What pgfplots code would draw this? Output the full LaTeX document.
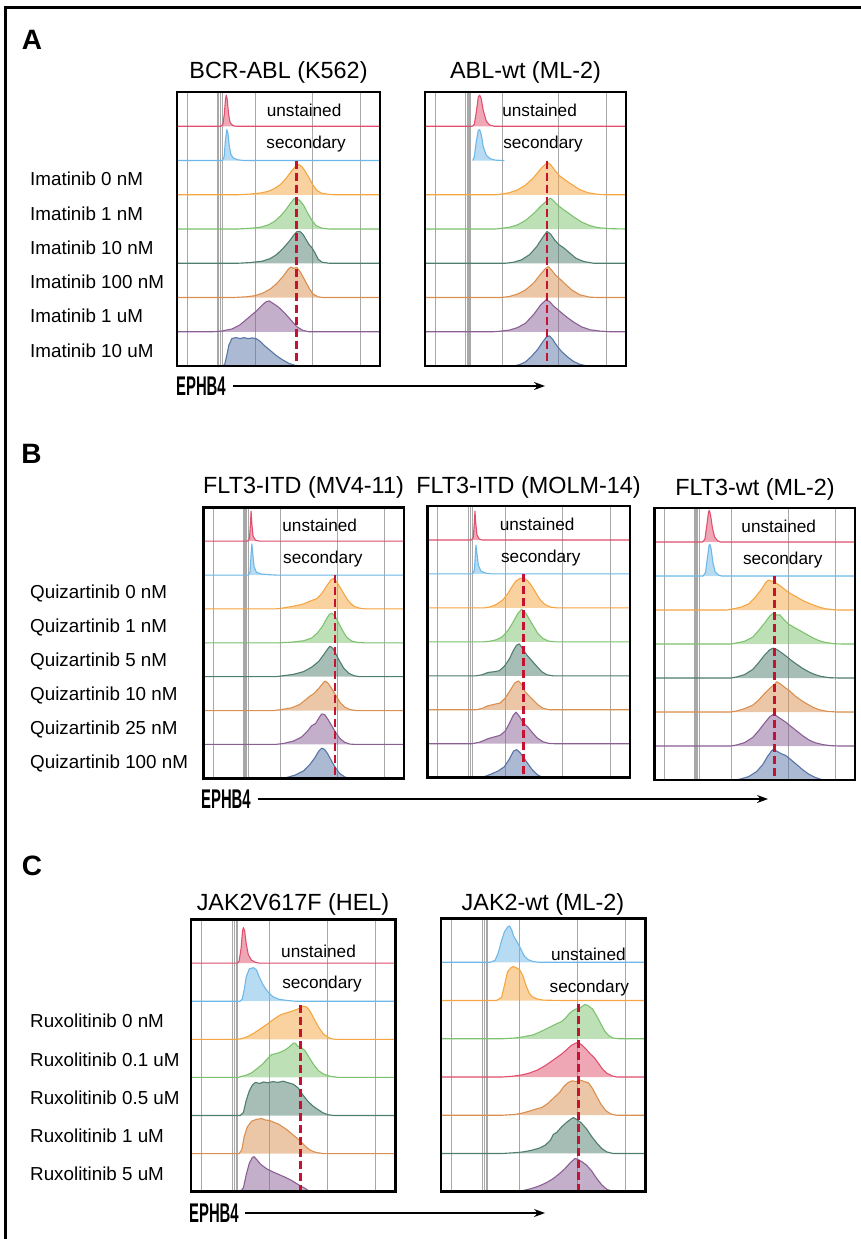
\documentclass[border=0pt]{standalone}
\usepackage{pgfplots}
\pgfplotsset{compat=1.18}
\usepackage{graphicx}
\usepackage{fontspec}
\setmainfont{Liberation Sans}
\usetikzlibrary{arrows.meta}

\definecolor{cred}{HTML}{E0506E}
\definecolor{cblue}{HTML}{6DB8E8}
\definecolor{corange}{HTML}{F5A542}
\definecolor{clgreen}{HTML}{7DC26E}
\definecolor{cdgreen}{HTML}{4F7E6D}
\definecolor{ctan}{HTML}{D98F4F}
\definecolor{cpurple}{HTML}{8A5F95}
\definecolor{cnavy}{HTML}{5874A5}
\definecolor{cdash}{HTML}{C41230}
\definecolor{cgrid}{HTML}{A8A8A8}

\newcommand{\lab}{\fontsize{18.8}{21}\selectfont}
\newcommand{\inlab}{\fontsize{17.2}{20}\selectfont}
\newcommand{\ttl}{\fontsize{23.4}{27}\selectfont}
\newcommand{\pan}{\fontsize{28}{30}\selectfont\bfseries}
\tikzset{lab/.style={font=\lab, inner sep=0pt}, inlab/.style={font=\inlab}, ttl/.style={font=\ttl}, pan/.style={font=\pan}}

% one histogram: colour, baseline offset, points (x in % of box width, height in row units)
\newcommand{\hist}[3]{\addplot[draw=#1, fill=#1, fill opacity=0.5, line width=1.1pt, line join=round, mark=none]
  table[x index=0, y expr=\thisrowno{1}+#2, row sep=\\] {#3};}
\newcommand{\flowgrid}[1]{%
  \draw[cgrid, line width=0.9pt] (axis cs:5.2,0) -- (axis cs:5.2,#1) (axis cs:38.4,0) -- (axis cs:38.4,#1)
    (axis cs:66.6,0) -- (axis cs:66.6,#1) (axis cs:90.2,0) -- (axis cs:90.2,#1);
  \draw[cgrid, line width=1.4pt] (axis cs:20.2,0) -- (axis cs:20.2,#1) (axis cs:21.3,0) -- (axis cs:21.3,#1)
    (axis cs:22.4,0) -- (axis cs:22.4,#1);}
\newcommand{\medline}[2]{\addplot[cdash, line width=2.9pt, dash pattern=on 8pt off 4pt] coordinates {(#1,#2) (#1,0)};}
\newcommand{\frameit}{\draw[line width=2.8pt] (rel axis cs:0,0) rectangle (rel axis cs:1,1);}
\newcommand{\ephb}[1]{\node[anchor=west, inner sep=0pt, font=\fontsize{27}{29}\selectfont\bfseries] at (#1) {\scalebox{0.55}[1]{EPHB4}};}

\pgfplotsset{flow/.style={anchor=south west, scale only axis, axis lines=none,
  xmin=0, xmax=100, ymin=0, xtick=\empty, ytick=\empty, clip=false}}

\begin{document}
\begin{tikzpicture}
\useasboundingbox (0,0) rectangle (861pt,-1239pt);
\draw[line width=2.8pt] (870pt,-7.5pt) -- (5.5pt,-7.5pt) -- (5.5pt,-1250pt);

% ---------------- A ----------------
\node[pan, anchor=center] at (32pt,-40pt) {A};
\node[ttl] at (278.5pt,-72pt) {BCR-ABL (K562)};
\node[ttl] at (525.5pt,-72pt) {ABL-wt (ML-2)};
\foreach \t [count=\i from 2] in {Imatinib 0 nM, Imatinib 1 nM, Imatinib 10 nM, Imatinib 100 nM, Imatinib 1 uM, Imatinib 10 uM}
  \node[lab, anchor=west] at (30pt,{-(92+(\i+0.5)*34.25+1.5)*1pt}) {\t};

\begin{axis}[flow, at={(177pt,-366pt)}, width=203pt, height=274pt, ymax=8]
\flowgrid{8}
\hist{cred}{7}{0 0\\ 21.5 0\\ 22.6 0.05\\ 23.3 0.35\\ 23.9 0.8\\ 24.3 0.91\\ 24.8 0.75\\ 25.4 0.35\\ 26.2 0.1\\ 27.5 0.02\\ 29 0\\ 100 0\\}
\hist{cblue}{6}{0 0\\ 22.3 0\\ 23.2 0.1\\ 23.8 0.55\\ 24.5 0.9\\ 25.1 0.8\\ 25.7 0.45\\ 26.5 0.18\\ 27.8 0.07\\ 30 0.02\\ 33 0\\ 100 0\\}
\hist{corange}{5}{0 0\\ 30 0\\ 36 0.02\\ 41 0.05\\ 45 0.1\\ 48 0.18\\ 51 0.3\\ 54 0.5\\ 56.5 0.7\\ 58.5 0.84\\ 60 0.88\\ 61.5 0.82\\ 63 0.7\\ 65 0.5\\ 67 0.28\\ 69 0.12\\ 71.5 0.04\\ 75 0.01\\ 78 0\\ 100 0\\}
\hist{clgreen}{4}{0 0\\ 30 0\\ 36 0.02\\ 41 0.05\\ 45 0.12\\ 48 0.22\\ 51 0.38\\ 53.5 0.55\\ 55.5 0.72\\ 57.5 0.87\\ 58.7 0.9\\ 60.5 0.83\\ 62.5 0.68\\ 64.5 0.45\\ 66.5 0.25\\ 68.5 0.1\\ 71 0.03\\ 75 0\\ 100 0\\}
\hist{cdgreen}{3}{0 0\\ 30 0\\ 36 0.02\\ 42 0.06\\ 46 0.14\\ 49 0.25\\ 52 0.42\\ 55 0.62\\ 57.5 0.82\\ 59 0.92\\ 60.5 0.93\\ 62 0.85\\ 63.5 0.7\\ 65 0.55\\ 66.5 0.45\\ 68 0.3\\ 69.5 0.12\\ 71.5 0.03\\ 75 0\\ 100 0\\}
\hist{ctan}{2}{0 0\\ 28 0\\ 34 0.02\\ 38 0.05\\ 42 0.12\\ 46 0.25\\ 49 0.4\\ 52 0.6\\ 54.5 0.8\\ 56 0.89\\ 57.5 0.85\\ 59 0.88\\ 61 0.72\\ 63 0.5\\ 65 0.28\\ 67 0.1\\ 69.5 0.02\\ 72 0\\ 100 0\\}
\hist{cpurple}{1}{0 0\\ 18 0\\ 22 0.02\\ 27 0.08\\ 31 0.2\\ 35 0.4\\ 39 0.6\\ 42 0.78\\ 44 0.88\\ 45.5 0.9\\ 47.5 0.82\\ 50 0.72\\ 53 0.55\\ 56 0.35\\ 59 0.15\\ 62 0.04\\ 65 0\\ 100 0\\}
\hist{cnavy}{0}{0 0\\ 22.5 0\\ 23.5 0.05\\ 24.5 0.3\\ 25.5 0.6\\ 27 0.8\\ 29 0.83\\ 31 0.8\\ 33 0.83\\ 35 0.8\\ 37 0.82\\ 39 0.8\\ 41 0.72\\ 43 0.6\\ 46 0.45\\ 49 0.3\\ 52 0.18\\ 55 0.08\\ 58 0.02\\ 61 0\\ 100 0\\}
\medline{58.9}{6}
\node[inlab] at (axis cs:62.6,7.47) {unstained};
\node[inlab] at (axis cs:63.6,6.47) {secondary};
\frameit
\end{axis}

\begin{axis}[flow, at={(425pt,-366pt)}, width=201pt, height=274pt, ymax=8]
\flowgrid{8}
\hist{cred}{7}{0 0\\ 23.5 0\\ 24.5 0.05\\ 25.5 0.4\\ 26.5 0.85\\ 27.2 0.91\\ 28 0.8\\ 29 0.45\\ 30.5 0.15\\ 32 0.04\\ 34.5 0\\ 100 0\\}
\hist{cblue}{6}{23.7 0\\ 24.5 0.1\\ 25.5 0.55\\ 26.5 0.88\\ 27.2 0.9\\ 28 0.75\\ 29 0.4\\ 30.5 0.15\\ 32.5 0.05\\ 35 0.01\\ 39.5 0\\}
\hist{corange}{5}{0 0\\ 35 0\\ 38 0.02\\ 42 0.06\\ 46 0.14\\ 50 0.28\\ 54 0.5\\ 57.5 0.75\\ 60 0.9\\ 61 0.94\\ 62.5 0.88\\ 64.5 0.72\\ 67 0.55\\ 70 0.42\\ 73 0.3\\ 77 0.15\\ 81 0.06\\ 85 0.02\\ 89 0\\ 100 0\\}
\hist{clgreen}{4}{0 0\\ 35 0\\ 38 0.02\\ 42 0.05\\ 46 0.12\\ 50 0.25\\ 54 0.45\\ 57.5 0.66\\ 60.5 0.82\\ 62.4 0.9\\ 64 0.82\\ 66 0.7\\ 68.5 0.58\\ 71 0.48\\ 74 0.35\\ 78 0.2\\ 82 0.1\\ 86 0.04\\ 92 0.01\\ 100 0\\}
\hist{cdgreen}{3}{0 0\\ 40 0\\ 44 0.03\\ 48 0.1\\ 52 0.25\\ 55.5 0.48\\ 58.5 0.75\\ 60.7 0.93\\ 62.5 0.85\\ 64.5 0.68\\ 66.5 0.55\\ 69 0.45\\ 72 0.3\\ 75 0.15\\ 79 0.05\\ 84 0\\ 100 0\\}
\hist{ctan}{2}{0 0\\ 38 0\\ 42 0.03\\ 46 0.1\\ 50 0.22\\ 54 0.42\\ 57.5 0.68\\ 60 0.85\\ 61.4 0.9\\ 63 0.8\\ 65 0.65\\ 67.5 0.52\\ 70 0.38\\ 73 0.22\\ 77 0.08\\ 82 0.01\\ 86 0\\ 100 0\\}
\hist{cpurple}{1}{0 0\\ 34 0\\ 38 0.02\\ 42 0.05\\ 46 0.12\\ 50 0.25\\ 54 0.5\\ 57.5 0.78\\ 60.2 0.93\\ 62 0.88\\ 64 0.75\\ 67 0.6\\ 70 0.45\\ 74 0.28\\ 78 0.14\\ 82 0.06\\ 87 0.02\\ 92 0\\ 100 0\\}
\hist{cnavy}{0}{0 0\\ 44 0\\ 47 0.04\\ 50 0.12\\ 53 0.28\\ 56 0.48\\ 58.5 0.7\\ 60.5 0.85\\ 61.9 0.88\\ 63.5 0.78\\ 65.5 0.6\\ 68 0.42\\ 71 0.26\\ 74 0.13\\ 77 0.05\\ 80 0.01\\ 83 0\\ 100 0\\}
\medline{60.7}{6}
\node[inlab] at (axis cs:57,7.47) {unstained};
\node[inlab] at (axis cs:58.7,6.47) {secondary};
\frameit
\end{axis}

\ephb{176pt,-386pt}
\draw[line width=1.3pt, -{Stealth[length=11pt, width=8pt]}] (233pt,-386pt) -- (545pt,-386pt);

% ---------------- B ----------------
\node[pan, anchor=center] at (31.5pt,-454pt) {B};
\node[ttl] at (303.5pt,-487pt) {FLT3-ITD (MV4-11)};
\node[ttl] at (528.5pt,-487pt) {FLT3-ITD (MOLM-14)};
\node[ttl] at (755pt,-489pt) {FLT3-wt (ML-2)};
\foreach \t [count=\i from 2] in {Quizartinib 0 nM, Quizartinib 1 nM, Quizartinib 5 nM, Quizartinib 10 nM, Quizartinib 25 nM, Quizartinib 100 nM}
  \node[lab, anchor=west] at (30pt,{-(507.3+(\i+0.5)*33.9+1.5)*1pt}) {\t};

\begin{axis}[flow, at={(203.3pt,-778.3pt)}, width=200.7pt, height=271pt, ymax=8]
\flowgrid{8}
\hist{cred}{7}{0 0\\ 22 0\\ 23 0.08\\ 23.5 0.5\\ 23.8 0.89\\ 24.2 0.5\\ 24.8 0.15\\ 26 0.03\\ 28 0\\ 100 0\\}
\hist{cblue}{6}{0 0\\ 22.5 0\\ 23.3 0.1\\ 23.8 0.6\\ 24.2 0.92\\ 24.7 0.6\\ 25.3 0.25\\ 26.5 0.08\\ 29 0.03\\ 33 0.01\\ 36 0\\ 100 0\\}
\hist{corange}{5}{0 0\\ 36 0\\ 40 0.03\\ 45 0.08\\ 50 0.15\\ 54 0.25\\ 56.5 0.3\\ 59 0.45\\ 61.5 0.68\\ 63.5 0.85\\ 64.8 0.9\\ 66.5 0.8\\ 68.5 0.6\\ 70.5 0.4\\ 72.5 0.22\\ 75 0.08\\ 78 0.02\\ 81 0\\ 100 0\\}
\hist{clgreen}{4}{0 0\\ 38 0\\ 44 0.02\\ 50 0.06\\ 54 0.14\\ 57 0.3\\ 59.5 0.5\\ 61.5 0.72\\ 63 0.85\\ 64 0.88\\ 65.5 0.8\\ 67.5 0.58\\ 69.5 0.35\\ 71.5 0.16\\ 74 0.05\\ 77 0.01\\ 80 0\\ 100 0\\}
\hist{cdgreen}{3}{0 0\\ 36 0\\ 40 0.03\\ 45 0.07\\ 50 0.15\\ 54 0.28\\ 57.5 0.45\\ 60 0.65\\ 62 0.82\\ 63.1 0.9\\ 64.5 0.84\\ 66 0.68\\ 68 0.45\\ 70 0.25\\ 72.5 0.1\\ 75 0.03\\ 78 0\\ 100 0\\}
\hist{ctan}{2}{0 0\\ 35 0\\ 39 0.03\\ 44 0.08\\ 48 0.18\\ 51 0.32\\ 53 0.42\\ 55 0.5\\ 57.5 0.65\\ 59.5 0.8\\ 60.6 0.87\\ 62 0.82\\ 64 0.65\\ 66 0.45\\ 68 0.25\\ 70.5 0.1\\ 73 0.03\\ 76 0\\ 100 0\\}
\hist{cpurple}{1}{0 0\\ 36 0\\ 40 0.03\\ 45 0.1\\ 49 0.22\\ 52 0.4\\ 54 0.55\\ 56 0.62\\ 58 0.82\\ 59 0.9\\ 60.5 0.88\\ 62 0.75\\ 64 0.55\\ 66 0.35\\ 68 0.18\\ 70.5 0.06\\ 73 0.01\\ 76 0\\ 100 0\\}
\hist{cnavy}{0}{0 0\\ 38 0\\ 42 0.03\\ 46 0.1\\ 50 0.22\\ 53 0.4\\ 55.5 0.6\\ 57.5 0.8\\ 59 0.89\\ 60.5 0.85\\ 62 0.72\\ 64 0.5\\ 66 0.3\\ 68 0.14\\ 70.5 0.04\\ 73 0\\ 100 0\\}
\medline{65.6}{6}
\node[inlab] at (axis cs:58,7.47) {unstained};
\node[inlab] at (axis cs:59.6,6.47) {secondary};
\frameit
\end{axis}

\begin{axis}[flow, at={(427.3pt,-777.7pt)}, width=202.7pt, height=271.7pt, ymax=8]
\flowgrid{8}
\hist{cred}{7}{0 0\\ 21.8 0\\ 22.7 0.08\\ 23.2 0.5\\ 23.5 0.85\\ 23.9 0.5\\ 24.5 0.15\\ 25.5 0.03\\ 27 0\\ 100 0\\}
\hist{cblue}{6}{0 0\\ 22.3 0\\ 23.2 0.1\\ 23.7 0.55\\ 24 0.85\\ 24.5 0.6\\ 25.2 0.25\\ 26.5 0.08\\ 29 0.02\\ 32 0\\ 100 0\\}
\hist{corange}{5}{0 0\\ 28 0\\ 31 0.03\\ 34 0.1\\ 37 0.22\\ 39.5 0.4\\ 41.5 0.6\\ 43.5 0.78\\ 45.5 0.86\\ 47.4 0.88\\ 49.5 0.8\\ 51.5 0.65\\ 53.5 0.45\\ 55.5 0.25\\ 58 0.1\\ 61 0.02\\ 64 0\\ 100 0\\}
\hist{clgreen}{4}{0 0\\ 28 0\\ 31 0.02\\ 34 0.06\\ 37 0.15\\ 40 0.35\\ 42.5 0.6\\ 44.5 0.82\\ 46.5 0.96\\ 48.5 0.85\\ 50.5 0.65\\ 52.5 0.45\\ 54.5 0.25\\ 57 0.1\\ 60 0.02\\ 63 0\\ 100 0\\}
\hist{cdgreen}{3}{0 0\\ 24 0\\ 27 0.03\\ 30 0.1\\ 33 0.12\\ 35.5 0.15\\ 38 0.28\\ 40.5 0.5\\ 42.5 0.75\\ 44 0.9\\ 45.4 0.94\\ 47 0.8\\ 49 0.62\\ 51.5 0.45\\ 54 0.28\\ 56.5 0.12\\ 59 0.03\\ 62 0\\ 100 0\\}
\hist{ctan}{2}{0 0\\ 24 0\\ 27 0.04\\ 30 0.12\\ 33 0.16\\ 36 0.2\\ 38.5 0.35\\ 41 0.58\\ 43 0.78\\ 44.9 0.85\\ 46.5 0.75\\ 48 0.55\\ 50 0.42\\ 52 0.3\\ 54.5 0.15\\ 57 0.05\\ 60 0\\ 100 0\\}
\hist{cpurple}{1}{0 0\\ 22 0\\ 26 0.05\\ 30 0.15\\ 33 0.2\\ 36 0.25\\ 38.5 0.38\\ 40.5 0.6\\ 42.5 0.85\\ 43.8 0.93\\ 45.5 0.8\\ 47.5 0.6\\ 49.5 0.5\\ 51.5 0.35\\ 54 0.18\\ 57 0.06\\ 60 0.01\\ 63 0\\ 100 0\\}
\hist{cnavy}{0}{0 0\\ 26 0\\ 29 0.05\\ 32 0.12\\ 35 0.2\\ 38 0.32\\ 40.5 0.55\\ 42.5 0.78\\ 44.1 0.83\\ 46 0.72\\ 48 0.55\\ 50 0.38\\ 52 0.22\\ 54.5 0.08\\ 57 0.01\\ 60 0\\ 100 0\\}
\medline{47.4}{6}
\node[inlab] at (axis cs:54.2,7.47) {unstained};
\node[inlab] at (axis cs:56,6.47) {secondary};
\frameit
\end{axis}

\begin{axis}[flow, at={(654.3pt,-780pt)}, width=200.7pt, height=272pt, ymax=8]
\flowgrid{8}
\hist{cred}{7}{0 0\\ 24 0\\ 25.2 0.08\\ 26.2 0.5\\ 27 0.88\\ 27.4 0.93\\ 28 0.8\\ 29 0.4\\ 30 0.15\\ 31.5 0.04\\ 33 0\\ 100 0\\}
\hist{cblue}{6}{0 0\\ 24.3 0\\ 25.5 0.1\\ 26.5 0.55\\ 27.3 0.9\\ 27.7 0.93\\ 28.3 0.8\\ 29.2 0.4\\ 30.3 0.12\\ 32 0.03\\ 33.5 0\\ 100 0\\}
\hist{corange}{5}{0 0\\ 36 0\\ 39 0.03\\ 43 0.08\\ 47 0.18\\ 50 0.35\\ 53 0.58\\ 55.5 0.8\\ 56.8 0.88\\ 58.5 0.85\\ 60.5 0.8\\ 63 0.7\\ 65.5 0.58\\ 68 0.48\\ 71 0.38\\ 74 0.28\\ 77 0.2\\ 80 0.13\\ 83 0.07\\ 86 0.03\\ 89 0.01\\ 92 0\\ 100 0\\}
\hist{clgreen}{4}{0 0\\ 38 0\\ 41 0.03\\ 45 0.08\\ 49 0.2\\ 52 0.4\\ 55 0.62\\ 57.5 0.82\\ 59.3 0.91\\ 61 0.85\\ 62.5 0.86\\ 64.5 0.72\\ 67 0.58\\ 70 0.48\\ 73 0.38\\ 76 0.28\\ 79 0.18\\ 82 0.1\\ 85 0.05\\ 89 0.01\\ 94 0\\ 100 0\\}
\hist{cdgreen}{3}{0 0\\ 38 0\\ 41 0.03\\ 45 0.1\\ 49 0.25\\ 52 0.45\\ 55 0.68\\ 57.5 0.83\\ 59.3 0.88\\ 61 0.84\\ 63 0.76\\ 65.5 0.65\\ 68 0.53\\ 71 0.4\\ 74 0.28\\ 77 0.18\\ 80 0.1\\ 83 0.05\\ 87 0.01\\ 92 0\\ 100 0\\}
\hist{ctan}{2}{0 0\\ 38 0\\ 41 0.03\\ 45 0.1\\ 49 0.2\\ 52 0.35\\ 55 0.55\\ 58 0.72\\ 60 0.82\\ 61 0.89\\ 63 0.82\\ 65.5 0.7\\ 67.5 0.62\\ 70 0.48\\ 73 0.35\\ 76 0.24\\ 79 0.14\\ 82 0.07\\ 86 0.02\\ 91 0\\ 100 0\\}
\hist{cpurple}{1}{0 0\\ 38 0\\ 41 0.03\\ 45 0.1\\ 49 0.25\\ 52 0.45\\ 55 0.68\\ 57.5 0.86\\ 59.3 0.93\\ 61 0.88\\ 63 0.8\\ 65.5 0.7\\ 68 0.58\\ 71 0.44\\ 74 0.3\\ 77 0.18\\ 80 0.1\\ 84 0.04\\ 88 0.01\\ 92 0\\ 100 0\\}
\hist{cnavy}{0}{0 0\\ 40 0\\ 43 0.03\\ 47 0.1\\ 51 0.25\\ 54 0.45\\ 56.5 0.7\\ 58.5 0.86\\ 59.3 0.9\\ 61 0.85\\ 63 0.78\\ 65.5 0.72\\ 68 0.6\\ 71 0.45\\ 74 0.3\\ 77 0.17\\ 80 0.08\\ 83 0.02\\ 86 0\\ 100 0\\}
\medline{59.8}{6}
\node[inlab] at (axis cs:62,7.47) {unstained};
\node[inlab] at (axis cs:64,6.47) {secondary};
\frameit
\end{axis}

\ephb{201pt,-799pt}
\draw[line width=1.3pt, -{Stealth[length=11pt, width=8pt]}] (258pt,-799pt) -- (768pt,-799pt);

% ---------------- C ----------------
\node[pan, anchor=center] at (32pt,-866pt) {C};
\node[ttl] at (293pt,-904pt) {JAK2V617F (HEL)};
\node[ttl] at (543pt,-904pt) {JAK2-wt (ML-2)};
\foreach \t [count=\i from 2] in {Ruxolitinib 0 nM, Ruxolitinib 0.1 uM, Ruxolitinib 0.5 uM, Ruxolitinib 1 uM, Ruxolitinib 5 uM}
  \node[lab, anchor=west] at (30pt,{-(962.3+(\i-0.5)*38.2+1.5)*1pt}) {\t};

\begin{axis}[flow, at={(191pt,-1191.7pt)}, width=204.7pt, height=272.4pt, ymax=7.15]
\flowgrid{7.15}
\hist{cred}{6}{0 0\\ 22.5 0\\ 23.5 0.05\\ 24.5 0.4\\ 25.2 0.85\\ 25.6 0.93\\ 26.2 0.85\\ 27 0.5\\ 28 0.22\\ 29.5 0.08\\ 31.5 0.02\\ 33.5 0\\ 100 0\\}
\hist{cblue}{5}{0 0\\ 24 0\\ 25 0.05\\ 26 0.3\\ 27 0.65\\ 28.5 0.85\\ 30.5 0.88\\ 32 0.82\\ 33.5 0.62\\ 35 0.45\\ 36.5 0.32\\ 38 0.22\\ 40 0.12\\ 43 0.05\\ 47 0.02\\ 51 0\\ 100 0\\}
\hist{corange}{4}{0 0\\ 22 0\\ 25 0.02\\ 28 0.08\\ 31 0.17\\ 34 0.28\\ 37.8 0.42\\ 41 0.55\\ 44 0.65\\ 47 0.7\\ 50 0.75\\ 52.4 0.8\\ 54.9 0.87\\ 56.5 0.85\\ 58 0.75\\ 60 0.55\\ 62.2 0.33\\ 64.5 0.15\\ 67 0.05\\ 69 0.01\\ 71 0\\ 100 0\\}
\hist{clgreen}{3}{0 0\\ 23 0\\ 25 0.03\\ 27 0.06\\ 29.6 0.12\\ 32 0.22\\ 35 0.35\\ 37.5 0.5\\ 39.4 0.6\\ 42 0.63\\ 44 0.67\\ 46 0.72\\ 48 0.8\\ 50 0.9\\ 51 0.9\\ 52 0.82\\ 53.5 0.8\\ 55.7 0.7\\ 58 0.5\\ 60 0.33\\ 62.2 0.18\\ 65 0.08\\ 68 0.03\\ 72 0\\ 100 0\\}
\hist{cdgreen}{2}{0 0\\ 24 0\\ 25.6 0.08\\ 27 0.4\\ 28.5 0.65\\ 30 0.8\\ 31.5 0.87\\ 33.5 0.84\\ 35.5 0.88\\ 37.5 0.86\\ 40 0.89\\ 42.5 0.87\\ 45 0.9\\ 47.5 0.86\\ 50 0.82\\ 52.4 0.72\\ 54.5 0.55\\ 57 0.38\\ 59.5 0.25\\ 62.2 0.15\\ 64.5 0.07\\ 67 0.02\\ 70 0\\ 100 0\\}
\hist{ctan}{1}{0 0\\ 23.5 0\\ 24.8 0.1\\ 26 0.45\\ 27.5 0.7\\ 29.6 0.85\\ 32 0.9\\ 34.5 0.92\\ 36.5 0.88\\ 38.5 0.87\\ 40.5 0.82\\ 42.5 0.78\\ 44.3 0.72\\ 47 0.62\\ 50.8 0.45\\ 53 0.35\\ 55.7 0.2\\ 58 0.1\\ 60 0.05\\ 62.2 0.02\\ 65 0\\ 100 0\\}
\hist{cpurple}{0}{0 0\\ 24 0\\ 25.6 0.1\\ 27 0.45\\ 28.5 0.75\\ 30 0.9\\ 30.8 0.92\\ 32 0.85\\ 34 0.72\\ 37 0.6\\ 40 0.52\\ 43 0.45\\ 46 0.38\\ 49 0.3\\ 52 0.2\\ 54.5 0.12\\ 56 0.08\\ 57.5 0.02\\ 59 0\\ 100 0\\}
\medline{53.3}{4.9}
\node[inlab] at (axis cs:62.3,6.3) {unstained};
\node[inlab] at (axis cs:64,5.44) {secondary};
\frameit
\end{axis}

\begin{axis}[flow, at={(441pt,-1191.7pt)}, width=204.7pt, height=273.4pt, ymax=7.15]
\flowgrid{7.15}
\hist{cblue}{6}{0 0\\ 24 0\\ 26.4 0.05\\ 28 0.25\\ 29.5 0.55\\ 31 0.8\\ 32.5 0.92\\ 33.5 0.95\\ 34.5 0.85\\ 35.5 0.68\\ 37 0.55\\ 38.5 0.4\\ 40.5 0.18\\ 42.5 0.07\\ 45 0.02\\ 48 0\\ 100 0\\}
\hist{corange}{5}{0 0\\ 27 0\\ 29.6 0.08\\ 31 0.4\\ 32.5 0.75\\ 34 0.85\\ 35.3 0.89\\ 37 0.85\\ 38.5 0.8\\ 40 0.65\\ 41.5 0.4\\ 43 0.2\\ 44.5 0.1\\ 47 0.04\\ 50 0.01\\ 60 0\\ 100 0\\}
\hist{clgreen}{4}{0 0\\ 30 0\\ 36 0.02\\ 40 0.05\\ 45 0.1\\ 49.2 0.2\\ 53 0.3\\ 56 0.38\\ 58.9 0.45\\ 61 0.55\\ 62.5 0.65\\ 64 0.72\\ 66 0.78\\ 67.5 0.78\\ 69 0.85\\ 70.4 0.9\\ 72 0.86\\ 74 0.78\\ 76 0.6\\ 78 0.4\\ 80 0.2\\ 82 0.08\\ 84 0.02\\ 87 0\\ 100 0\\}
\hist{cred}{3}{0 0\\ 30 0\\ 35 0.02\\ 39 0.05\\ 43 0.1\\ 47 0.18\\ 51 0.3\\ 55 0.45\\ 58.9 0.6\\ 61.5 0.72\\ 63.5 0.82\\ 65.5 0.88\\ 66.8 0.9\\ 68.5 0.85\\ 70.5 0.75\\ 73 0.6\\ 75 0.5\\ 77 0.35\\ 79 0.2\\ 81 0.1\\ 83.5 0.03\\ 86 0\\ 100 0\\}
\hist{ctan}{2}{0 0\\ 30 0\\ 36 0.02\\ 40 0.06\\ 44 0.12\\ 47.5 0.18\\ 49.2 0.2\\ 52 0.3\\ 55 0.45\\ 58 0.6\\ 60 0.75\\ 62 0.85\\ 64 0.9\\ 66 0.88\\ 68 0.92\\ 70 0.88\\ 72 0.85\\ 74 0.7\\ 76 0.5\\ 78 0.3\\ 80.5 0.12\\ 83 0.03\\ 86 0\\ 100 0\\}
\hist{cdgreen}{1}{0 0\\ 30 0\\ 36 0.02\\ 40 0.04\\ 44 0.08\\ 48 0.14\\ 51 0.22\\ 53.5 0.35\\ 54.9 0.5\\ 56.5 0.55\\ 59 0.7\\ 61.5 0.82\\ 63.5 0.9\\ 64.7 0.94\\ 66.5 0.88\\ 68.5 0.8\\ 71 0.65\\ 73.5 0.45\\ 76 0.28\\ 78.5 0.13\\ 81 0.04\\ 84 0\\ 100 0\\}
\hist{cpurple}{0}{0 0\\ 36 0\\ 40 0.03\\ 44 0.08\\ 48 0.15\\ 52 0.25\\ 55 0.35\\ 58 0.48\\ 60.5 0.6\\ 63 0.75\\ 65.5 0.87\\ 67 0.84\\ 69 0.78\\ 71 0.7\\ 73.5 0.55\\ 76 0.35\\ 78.5 0.18\\ 81 0.06\\ 84 0.01\\ 87 0\\ 100 0\\}
\medline{67.1}{4.9}
\node[inlab] at (axis cs:72,6.22) {unstained};
\node[inlab] at (axis cs:72.5,5.33) {secondary};
\frameit
\end{axis}

\ephb{189pt,-1213pt}
\draw[line width=1.3pt, -{Stealth[length=11pt, width=8pt]}] (245pt,-1213pt) -- (545pt,-1213pt);
\end{tikzpicture}
\end{document}
